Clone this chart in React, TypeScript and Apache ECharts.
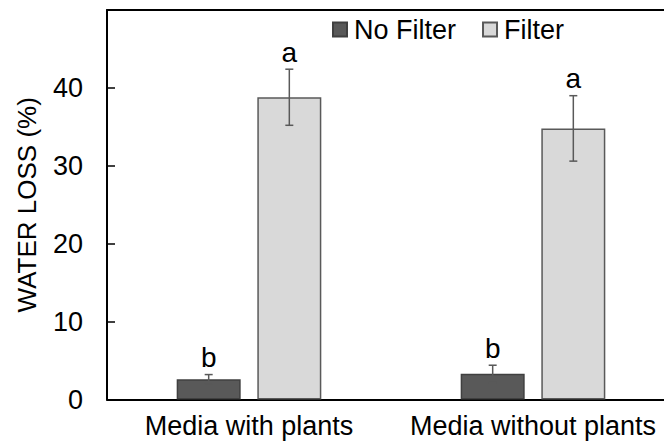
import React, { useEffect, useRef } from "react";
import * as echarts from "echarts";

// Treatment groups on the x axis
const categories = ["Media with plants", "Media without plants"];
// Mean water loss (%) per group
const noFilter = [2.6, 3.3];
const filter = [38.8, 34.8];
// Standard error (%)
const noFilterErr = [0.6, 1.1];
const filterErr = [3.6, 4.2];
// Significance letters
const noFilterLetters = ["b", "b"];
const filterLetters = ["a", "a"];
// Y axis ticks
const yTicks = [0, 10, 20, 30, 40];

const FONT = 'Arial, "Liberation Sans", sans-serif';
const BAR_WIDTH = 64;
const BAR_GAP = 0.26;

function errorSeries(name: string, values: number[], errs: number[], letters: string[], side: number) {
  const data = values.map((v, i) => [i, v, errs[i], letters[i]]);
  return {
    type: "custom",
    name: name + " err",
    z: 5,
    renderItem: (params: any, api: any) => {
      const idx = api.value(0);
      const v = api.value(1);
      const e = api.value(2);
      const letter = data[params.dataIndex][3] as string;
      const offset = side * (BAR_WIDTH / 2 + (BAR_WIDTH * BAR_GAP) / 2);
      const hi = api.coord([idx, v + e]);
      const lo = api.coord([idx, v - e]);
      const x = hi[0] + offset;
      const lineStyle = { stroke: "#595959", lineWidth: 1.5 };
      return {
        type: "group",
        children: [
          { type: "line", shape: { x1: x, y1: hi[1], x2: x, y2: lo[1] }, style: lineStyle },
          { type: "line", shape: { x1: x - 4, y1: hi[1], x2: x + 4, y2: hi[1] }, style: lineStyle },
          { type: "line", shape: { x1: x - 4, y1: lo[1], x2: x + 4, y2: lo[1] }, style: lineStyle },
          {
            type: "text",
            x: x,
            y: hi[1] - 3,
            style: {
              text: letter,
              fontSize: 28,
              fontFamily: FONT,
              fill: "#000",
              align: "center",
              verticalAlign: "bottom",
            },
          },
        ],
      };
    },
    data: data.map((d) => [d[0], d[1], d[2]]),
  };
}

export default function App() {
  const ref = useRef<HTMLDivElement>(null);

  useEffect(() => {
    if (!ref.current) return;
    const chart = echarts.init(ref.current, null, { renderer: "svg" });
    chart.setOption({
      animation: false,
      backgroundColor: "#ffffff",
      textStyle: { fontFamily: FONT },
      // the plot frame runs slightly past the visible right edge
      grid: { left: 107, right: 0, top: 10, bottom: 45.5, containLabel: false },
      legend: {
        left: 327,
        top: 11,
        itemWidth: 14,
        itemHeight: 14,
        itemGap: 26,
        icon: "rect",
        textStyle: { fontSize: 27, color: "#000", fontFamily: FONT, padding: [0, 0, 0, 2] },
        data: ["No Filter", "Filter"],
      },
      xAxis: [
        {
          type: "category",
          data: categories,
          axisLine: { lineStyle: { color: "#000", width: 2 } },
          axisTick: { show: false },
          axisLabel: { interval: 0, fontSize: 27, color: "#000", margin: 13, fontFamily: FONT },
        },
        {
          type: "category",
          position: "top",
          data: categories,
          axisLine: { lineStyle: { color: "#000", width: 2 } },
          axisTick: { show: false },
          axisLabel: { show: false },
        },
      ],
      yAxis: {
        type: "value",
        min: 0,
        max: 50,
        interval: 10,
        name: "WATER LOSS (%)",
        nameLocation: "middle",
        nameGap: 67,
        nameTextStyle: { fontSize: 26, color: "#000", fontFamily: FONT },
        axisLine: { show: true, lineStyle: { color: "#000", width: 2 } },
        axisTick: { show: true, inside: true, length: 8, lineStyle: { color: "#000", width: 1.5 } },
        axisLabel: {
          fontSize: 27,
          color: "#000",
          margin: 24,
          fontFamily: FONT,
          formatter: (v: number) => (yTicks.includes(v) ? String(v) : ""),
        },
        splitLine: { show: false },
      },
      series: [
        {
          name: "No Filter",
          type: "bar",
          data: noFilter,
          barWidth: BAR_WIDTH,
          barGap: BAR_GAP * 100 + "%",
          itemStyle: { color: "#595959", borderColor: "#404040", borderWidth: 1.5 },
        },
        {
          name: "Filter",
          type: "bar",
          data: filter,
          barWidth: BAR_WIDTH,
          barGap: BAR_GAP * 100 + "%",
          itemStyle: { color: "#d9d9d9", borderColor: "#595959", borderWidth: 1.5 },
        },
        errorSeries("No Filter", noFilter, noFilterErr, noFilterLetters, -1),
        errorSeries("Filter", filter, filterErr, filterLetters, 1),
      ],
    });
    return () => chart.dispose();
  }, []);

  return (
    <div
      style={{
        position: "fixed",
        left: 0,
        top: 0,
        width: 664,
        height: 445,
        overflow: "hidden",
        background: "#fff",
      }}
    >
      <div ref={ref} style={{ width: 675, height: 445 }} />
    </div>
  );
}
